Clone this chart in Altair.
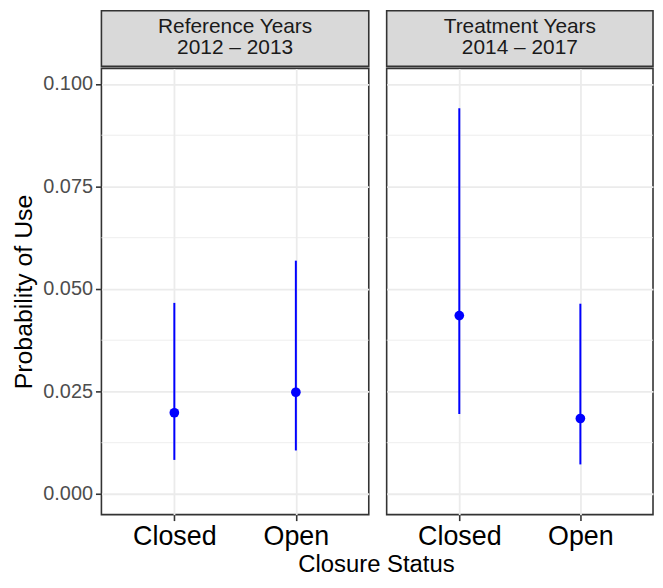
import altair as alt
import pandas as pd

FONT = "Liberation Sans"

# ---- data ----
period_line1 = ["Reference Years", "Treatment Years"]
period_line2 = ["2012 – 2013", "2014 – 2017"]
statuses = ["Closed", "Open"]
estimate = [[0.0198, 0.0248], [0.0435, 0.0184]]
lower = [[0.0083, 0.0106], [0.0195, 0.0072]]
upper = [[0.0466, 0.0569], [0.0941, 0.0464]]
y_ticks = [0.000, 0.025, 0.050, 0.075, 0.100]
y_minor = [0.0125, 0.0375, 0.0625, 0.0875]

GRID = "#EBEBEB"
DARK = "#333333"
BLUE = "#0000FF"
PANEL_H = 449
STRIP_H = 56


def make_panel(i, width, first):
    df = pd.DataFrame({"status": statuses, "est": estimate[i], "lo": lower[i], "hi": upper[i]})
    xscale = alt.Scale(type="point", padding=0.6, domain=statuses)
    yscale = alt.Scale(domain=[-0.00505, 0.1038], nice=False, zero=False)
    xaxis = alt.Axis(title=None, grid=True, gridColor=GRID, gridWidth=1.8, domain=False,
                     ticks=True, tickColor=DARK, tickWidth=1.6, tickSize=6,
                     labelFontSize=27, labelColor="#000000", labelPadding=3, labelAngle=0,
                     labelFont=FONT)
    if first:
        yaxis = alt.Axis(title="Probability of Use", values=y_ticks, format=".3f", grid=True,
                         gridColor=GRID, gridWidth=1.8, domain=False, tickColor=DARK,
                         tickSize=6, tickWidth=1.6, labelFontSize=20, labelColor="#4D4D4D",
                         labelPadding=3, labelFont=FONT, titleFont=FONT, titleFontSize=25,
                         titleFontWeight="normal", titleColor="#000000", titlePadding=6)
    else:
        yaxis = alt.Axis(title=None, values=y_ticks, grid=True, gridColor=GRID, gridWidth=1.8,
                         labels=False, ticks=False, domain=False)
    minor = alt.Chart(pd.DataFrame({"v": y_minor})).mark_rule(
        color=GRID, strokeWidth=0.9).encode(y=alt.Y("v:Q", scale=yscale, axis=yaxis))
    bars = alt.Chart(df).mark_rule(color=BLUE, strokeWidth=2).encode(
        x=alt.X("status:N", scale=xscale, axis=xaxis, sort=statuses),
        y=alt.Y("lo:Q", scale=yscale, axis=yaxis),
        y2="hi:Q")
    pts = alt.Chart(df).mark_circle(color=BLUE, size=95, opacity=1).encode(
        x=alt.X("status:N", scale=xscale, axis=xaxis, sort=statuses),
        y=alt.Y("est:Q", scale=yscale, axis=yaxis))
    return alt.layer(minor, bars, pts).properties(
        width=width, height=PANEL_H,
        view=alt.ViewBackground(fill="white", stroke=DARK, strokeWidth=1.6))


def make_strip(i, width):
    df = pd.DataFrame({"l1": [period_line1[i]], "l2": [period_line2[i]]})
    base = alt.Chart(df)
    t1 = base.mark_text(font=FONT, fontSize=21, color="#1A1A1A", baseline="middle",
                        align="center").encode(text="l1:N", x=alt.value(width / 2),
                                               y=alt.value(16))
    t2 = base.mark_text(font=FONT, fontSize=21, color="#1A1A1A", baseline="middle",
                        align="center").encode(text="l2:N", x=alt.value(width / 2),
                                               y=alt.value(38))
    return alt.layer(t1, t2).properties(
        width=width, height=STRIP_H,
        view=alt.ViewBackground(fill="#D9D9D9", stroke=DARK, strokeWidth=1.6))


col1 = alt.vconcat(make_strip(0, 269), make_panel(0, 269, True), spacing=0)
col2 = alt.vconcat(make_strip(1, 268), make_panel(1, 268, False), spacing=0)

chart = alt.hconcat(col1, col2, spacing=14).properties(
    title=alt.TitleParams("Closure Status", orient="bottom", anchor="middle", fontSize=24,
                          fontWeight="normal", font=FONT, color="#000000", offset=3, dx=44),
    padding={"left": 3, "top": 0, "right": 0, "bottom": 0},
).configure(font=FONT)

chart.save("out.html", embed_options={"renderer": "svg", "actions": False})
